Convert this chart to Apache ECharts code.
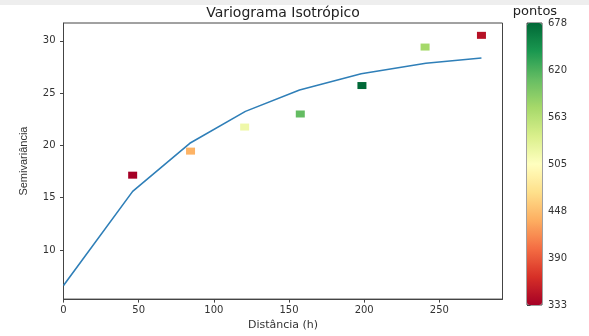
<!DOCTYPE html>
<html><head><meta charset="utf-8">
<script src="https://cdn.jsdelivr.net/npm/echarts@6/dist/echarts.min.js"></script>
<style>html,body{margin:0;padding:0;background:#fff}#c{width:589px;height:336px}</style>
</head><body><div id="c"></div>
<script>
// Data
const lineX = [0, 46, 84, 121, 157, 198, 241, 278];
const lineY = [6.6, 15.6, 20.2, 23.25, 25.3, 26.85, 27.85, 28.35];
const ptX = [46, 84.5, 120.5, 157.5, 198.5, 240.5, 278];
const ptY = [17.15, 19.45, 21.75, 23.0, 25.72, 29.4, 30.52];
const ptN = [333, 440, 520, 610, 678, 575, 345];
const xTicks = [0, 50, 100, 150, 200, 250];
const yTicks = [10, 15, 20, 25, 30];
const cbTicks = [333, 390.5, 448, 505.5, 563, 620.5, 678];
const rdylgn = ['#a50026','#d73027','#f46d43','#fdae61','#fee08b','#ffffbf','#d9ef8b','#a6d96a','#66bd63','#1a9850','#006837'];

const FONT = "DejaVu Sans";
const txt = '#333';
const chart = echarts.init(document.getElementById('c'), null, {renderer:'canvas'});
const GL = 63.5, GT = 23, GW = 439, GH = 282;
chart.setOption({
  animation: false,
  backgroundColor: '#fff',
  graphic: [
    {type:'rect', shape:{x:0,y:0,width:589,height:5}, style:{fill:'#eeeeee'}, silent:true},
    {type:'text', x: GL + GW/2, y: 13, style:{text:'Variograma Isotrópico', font:'14px "DejaVu Sans"', fill:'#222', align:'center', verticalAlign:'middle'}},
    {type:'text', x: 535, y: 12, style:{text:'pontos', font:'13px "DejaVu Sans"', fill:'#222', align:'center', verticalAlign:'middle'}}
  ],
  grid: [
    {left: GL, top: GT, width: GW, height: GH, show: true, borderColor: '#444', borderWidth: 1, containLabel: false},
    {left: 527, top: GT, width: 15, height: GH, show: true, borderColor: '#444', borderWidth: 1, backgroundColor:'transparent'}
  ],
  xAxis: [
    {type:'value', gridIndex:0, min:0, max:292, interval:50,
     name:'Distância (h)', nameLocation:'middle', nameGap:18,
     nameTextStyle:{fontFamily:FONT, fontSize:11, color:txt},
     axisLine:{show:true, onZero:false, lineStyle:{color:'#444'}},
     axisTick:{show:true, length:3.5, lineStyle:{color:'#444'}, customValues: xTicks},
     axisLabel:{fontFamily:FONT, fontSize:10, color:txt, margin:6, customValues: xTicks},
     splitLine:{show:false}},
    {type:'value', gridIndex:1, min:0, max:1, show:false}
  ],
  yAxis: [
    {type:'value', gridIndex:0, min:5.3, max:31.7,
     name:'Semivariância', nameLocation:'middle', nameGap:34,
     nameTextStyle:{fontFamily:"Liberation Sans", fontSize:11, color:txt},
     axisLine:{show:true, onZero:false, lineStyle:{color:'#444'}},
     axisTick:{show:true, length:3.5, lineStyle:{color:'#444'}, customValues: yTicks},
     axisLabel:{fontFamily:FONT, fontSize:10, color:txt, margin:8, customValues: yTicks},
     splitLine:{show:false}},
    {type:'value', gridIndex:1, min:333, max:678, position:'right',
     axisLine:{show:false},
     axisTick:{show:true, length:3.5, lineStyle:{color:'#444'}, customValues: cbTicks},
     axisLabel:{fontFamily:FONT, fontSize:10, color:txt, margin:6, customValues: cbTicks, formatter: v => String(Math.floor(v))},
     splitLine:{show:false}}
  ],
  visualMap: {
    type:'continuous', min:333, max:678, dimension:2, seriesIndex:1,
    left:527, top:GT, itemWidth:15, itemHeight:GH, padding:0,
    calculable:false, text:null, realtime:false, hoverLink:false,
    inRange:{color: rdylgn, opacity:1},
    textStyle:{color:'transparent'}
  },
  series: [
    {type:'line', xAxisIndex:0, yAxisIndex:0, data: lineX.map((x,i)=>[x,lineY[i]]),
     showSymbol:false, lineStyle:{color:'#2f7fb8', width:1.6}, z:2},
    {type:'scatter', xAxisIndex:0, yAxisIndex:0, data: ptX.map((x,i)=>[x,ptY[i],ptN[i]]),
     symbol:'rect', symbolSize:[9,7], itemStyle:{opacity:1}, z:3}
  ]
});
</script></body></html>
